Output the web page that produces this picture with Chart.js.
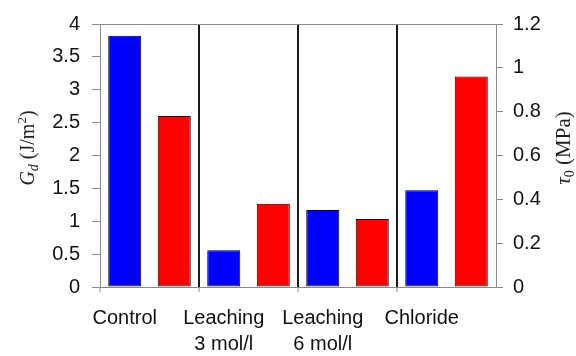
<!DOCTYPE html>
<html>
<head>
<meta charset="utf-8">
<script src="https://cdn.jsdelivr.net/npm/chart.js@4"></script>
<style>
    body { margin: 0; background: #fff; }
    canvas { display: block; }
</style>
</head>
<body>
<canvas id="chart" width="576" height="356"></canvas>
<script>
// Data
const groups = [['Control'], ['Leaching', '3 mol/l'], ['Leaching', '6 mol/l'], ['Chloride']];
const gdValues = [3.82, 0.56, 1.17, 1.47];     // G_d (J/m2), left axis
const tauValues = [0.78, 0.38, 0.31, 0.96];    // tau_0 (MPa), right axis
const leftTicks = { min: 0, max: 4, step: 0.5 };
const rightTicks = { min: 0, max: 1.2, step: 0.2 };

// Each group gets two slots: blue bar then red bar
const slotLabels = [];
const blueData = [];
const redData = [];
groups.forEach((g, i) => {
    slotLabels.push(g, '');
    blueData.push(gdValues[i], null);
    redData.push(null, tauValues[i]);
});

const GREY = '#8a8a8a';
const tickFont = { family: "'Liberation Sans', Arial, sans-serif", size: 20 };
const plainNumber = v => String(Number(v.toFixed(2)));

// Axis titles with italic symbols and sub/superscripts
function drawRuns(ctx, runs, cx, cy) {
    ctx.save();
    ctx.translate(cx, cy);
    ctx.rotate(-Math.PI / 2);
    ctx.textBaseline = 'alphabetic';
    ctx.fillStyle = '#222';
    let total = 0;
    runs.forEach(r => { ctx.font = r.font; r.w = ctx.measureText(r.text).width; total += r.w; });
    let x = -total / 2;
    runs.forEach(r => {
        ctx.font = r.font;
        ctx.fillText(r.text, x, 7 + (r.dy || 0));
        x += r.w;
    });
    ctx.restore();
}

const titlePlugin = {
    id: 'axisTitles',
    afterDraw(chart) {
        const ctx = chart.ctx;
        const cy = 148;
        const serif = "'Liberation Serif', 'Times New Roman', serif";
        drawRuns(ctx, [
            { text: 'G', font: `italic 20px ${serif}` },
            { text: 'd', font: `italic 14px ${serif}`, dy: 4 },
            { text: ' (J/m', font: `20px ${serif}` },
            { text: '2', font: `13px ${serif}`, dy: -8 },
            { text: ')', font: `20px ${serif}` }
        ], 27, cy);
        drawRuns(ctx, [
            { text: 'τ', font: `italic 21px ${serif}` },
            { text: '0', font: `14px ${serif}`, dy: 4 },
            { text: ' (MPa)', font: `21px ${serif}` }
        ], 563, cy);
    }
};

new Chart(document.getElementById('chart'), {
    type: 'bar',
    data: {
        labels: slotLabels,
        datasets: [
            {
                label: 'Gd',
                data: blueData,
                yAxisID: 'y',
                backgroundColor: '#0000ff',
                borderColor: '#000',
                borderWidth: 1,
                borderSkipped: false,
                skipNull: true
            },
            {
                label: 'tau0',
                data: redData,
                yAxisID: 'y1',
                backgroundColor: '#ff0000',
                borderColor: '#000',
                borderWidth: 1,
                borderSkipped: false,
                skipNull: true
            }
        ]
    },
    options: {
        responsive: false,
        animation: false,
        layout: { padding: { top: 23, bottom: 0, left: 0, right: 0 } },
        datasets: { bar: { barPercentage: 0.667, categoryPercentage: 1 } },
        plugins: { legend: { display: false }, tooltip: { enabled: false } },
        scales: {
            x: {
                offset: true,
                afterFit: s => { s.height = 69; },
                border: { color: GREY, width: 1 },
                grid: {
                    offset: true,
                    color: c => (c.index === 2 || c.index === 4 || c.index === 6) ? '#1a1a1a' : 'transparent',
                    lineWidth: 2,
                    tickColor: c => (c.index % 2 === 0) ? GREY : 'transparent',
                    tickWidth: 1,
                    tickLength: 5
                },
                ticks: {
                    autoSkip: false,
                    maxRotation: 0,
                    color: '#111',
                    padding: 13,
                    font: { ...tickFont, lineHeight: 1.3 }
                }
            },
            y: {
                position: 'left',
                min: leftTicks.min,
                max: leftTicks.max,
                afterFit: s => { s.width = 100; },
                border: { color: GREY, width: 1 },
                grid: {
                    color: c => (c.tick && c.tick.value === leftTicks.max) ? GREY : 'transparent',
                    tickColor: GREY,
                    tickLength: 8
                },
                ticks: { stepSize: leftTicks.step, color: '#111', padding: 12, font: tickFont, callback: plainNumber }
            },
            y1: {
                position: 'right',
                min: rightTicks.min,
                max: rightTicks.max,
                afterFit: s => { s.width = 80; },
                border: { color: GREY, width: 1 },
                grid: { drawOnChartArea: false, tickColor: GREY, tickLength: 7 },
                ticks: { stepSize: rightTicks.step, color: '#111', padding: 10, font: tickFont, callback: plainNumber }
            }
        }
    },
    plugins: [titlePlugin]
});
</script>
</body>
</html>
